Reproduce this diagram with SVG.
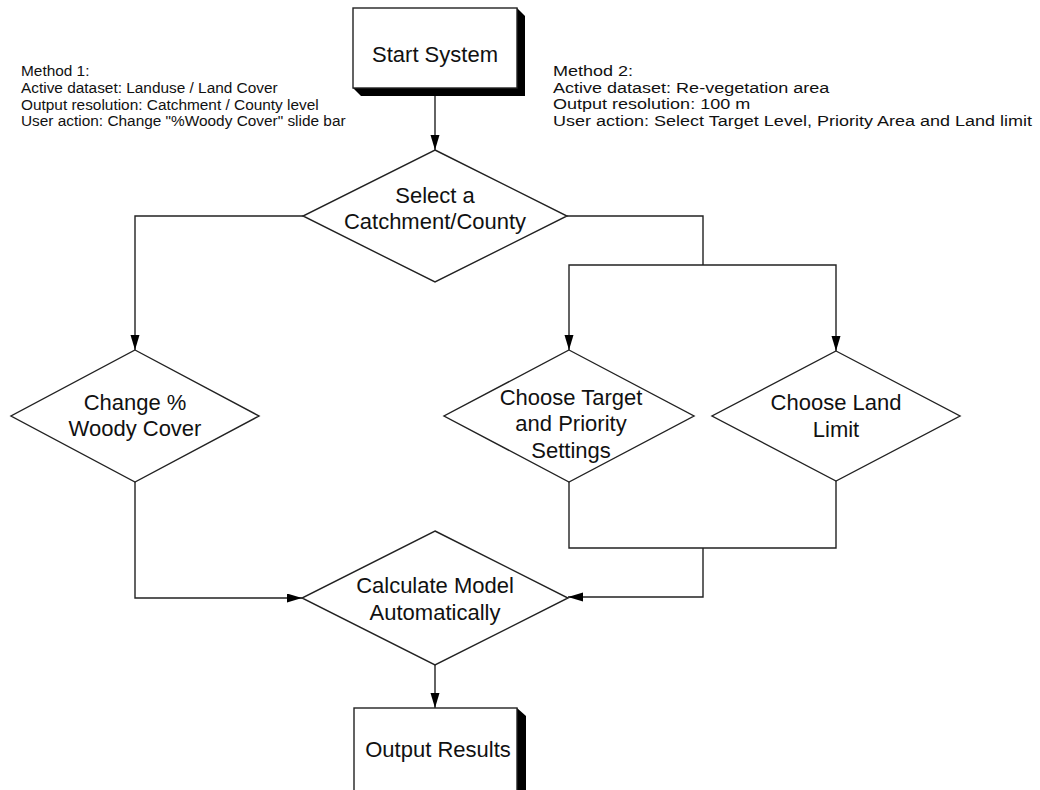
<svg xmlns="http://www.w3.org/2000/svg" width="1040" height="790" viewBox="0 0 1040 790">
<defs>
<style>
.t{font-family:"Liberation Sans",Arial,sans-serif;fill:#111;}
.n{font-size:22px;text-anchor:middle;}
.m{font-size:15.4px;}
.shape{fill:#fff;stroke:#222;stroke-width:1.4;}
.sh{fill:#000;}
.c{fill:none;stroke:#222;stroke-width:1.4;}
</style>
<marker id="arr" markerUnits="userSpaceOnUse" markerWidth="16" markerHeight="10" refX="15" refY="4.5" orient="auto">
<path d="M0,0 L15,4.5 L0,9 z" fill="#000"/>
</marker>
</defs>
<rect width="1040" height="790" fill="#fff"/>

<g id="notes">
<text class="t m" x="21" y="76">Method 1:</text>
<text class="t m" x="21" y="93">Active dataset: Landuse / Land Cover</text>
<text class="t m" x="21" y="109.5">Output resolution: Catchment / County level</text>
<text class="t m" x="21" y="126">User action: Change "%Woody Cover" slide bar</text>
<g transform="translate(553,0) scale(1.17,1)">
<text class="t m" x="0" y="76">Method 2:</text>
<text class="t m" x="0" y="93">Active dataset: Re-vegetation area</text>
<text class="t m" x="0" y="109.5">Output resolution: 100 m</text>
<text class="t m" x="0" y="126">User action: Select Target Level, Priority Area and Land limit</text>
</g>
</g>

<g id="connectors">
<path class="c" d="M435,96 L435,150" marker-end="url(#arr)"/>
<path class="c" d="M303,216 L135,216 L135,350" marker-end="url(#arr)"/>
<path class="c" d="M567,216 L703,216 L703,265"/>
<path class="c" d="M703,265 L569,265 L569,350" marker-end="url(#arr)"/>
<path class="c" d="M703,265 L836,265 L836,351" marker-end="url(#arr)"/>
<path class="c" d="M135,482 L135,598 L302,598" marker-end="url(#arr)"/>
<path class="c" d="M569,482 L569,548 L836,548 L836,481"/>
<path class="c" d="M703,548 L703,597 L568,597" marker-end="url(#arr)"/>
<path class="c" d="M435,665 L435,708" marker-end="url(#arr)"/>
</g>

<g id="start">
<polygon class="sh" points="353,88 361,96 525,96 525,16 517,8"/>
<rect class="shape" x="353" y="8" width="164" height="80"/>
<text class="t n" x="435" y="62">Start System</text>
</g>

<g id="select">
<polygon class="shape" points="435,150 567,216 435,282 303,216"/>
<text class="t n" x="435" y="203">Select a</text>
<text class="t n" x="435" y="229">Catchment/County</text>
</g>

<g id="woody">
<polygon class="shape" points="135,350 259,416 135,482 11,416"/>
<text class="t n" x="135" y="410">Change %</text>
<text class="t n" x="135" y="436">Woody Cover</text>
</g>

<g id="target">
<polygon class="shape" points="569,350 694,416 569,482 444,416"/>
<text class="t n" x="571" y="405">Choose Target</text>
<text class="t n" x="571" y="431">and Priority</text>
<text class="t n" x="571" y="458">Settings</text>
</g>

<g id="land">
<polygon class="shape" points="836,351 960,416 836,481 712,416"/>
<text class="t n" x="836" y="410">Choose Land</text>
<text class="t n" x="836" y="437">Limit</text>
</g>

<g id="calculate">
<polygon class="shape" points="435,531 568,598 435,665 302,598"/>
<text class="t n" x="435" y="593">Calculate Model</text>
<text class="t n" x="435" y="620">Automatically</text>
</g>

<g id="output">
<polygon class="sh" points="517,708 526,716 526,800 517,800"/>
<rect class="shape" x="354" y="708" width="163" height="100"/>
<text class="t n" x="438" y="757">Output Results</text>
</g>
</svg>
